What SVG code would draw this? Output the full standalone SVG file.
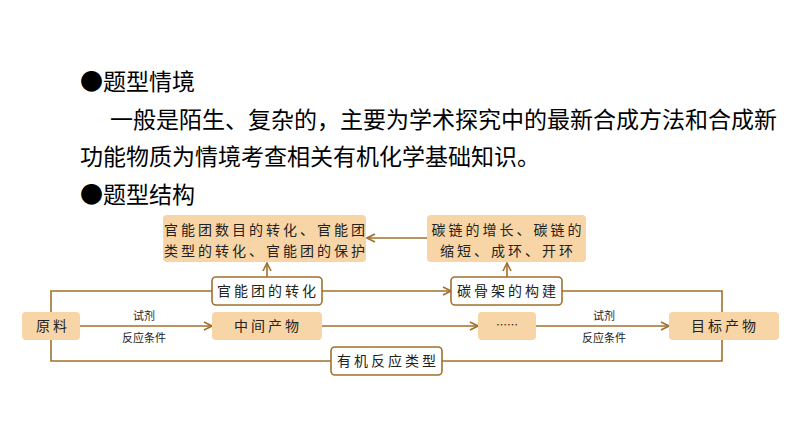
<svg xmlns="http://www.w3.org/2000/svg" width="794" height="447" viewBox="0 0 794 447">
<defs>
<marker id="a" viewBox="0 0 10 10" refX="9" refY="5" markerWidth="10" markerHeight="10" markerUnits="userSpaceOnUse" orient="auto"><path d="M1,1 L9,5 L1,9" fill="none" stroke="#a0702c" stroke-width="1.6"/></marker>
<style>
.h{font-family:"Noto Sans CJK SC",sans-serif;font-size:23px;fill:#000}
.f{fill:#f8d5a6;stroke:none}
.w{fill:#fff;stroke:#a0702c;stroke-width:1.6}
.t{font-family:"Noto Sans CJK SC",sans-serif;font-size:14px;fill:#222;text-anchor:middle;letter-spacing:3px}
.s{font-family:"Noto Sans CJK SC",sans-serif;font-size:11px;fill:#222;text-anchor:middle}
.c path{fill:none;stroke:#a0702c;stroke-width:1.6}
</style>
</defs>
<rect width="794" height="447" fill="#fff"/>
<text class="h" x="80" y="90">●题型情境</text>
<text class="h" x="110" y="128">一般是陌生、复杂的，主要为学术探究中的最新合成方法和合成新</text>
<text class="h" x="80" y="165">功能物质为情境考查相关有机化学基础知识。</text>
<text class="h" x="80" y="203">●题型结构</text>
<g class="c">
<path d="M51,312 V291 H212"/>
<path d="M322,291 H451" marker-end="url(#a)"/>
<path d="M562,291 H722 V312"/>
<path d="M51,340 V361 H331"/>
<path d="M442,361 H722 V340"/>
<path d="M80,326 H212" marker-end="url(#a)"/>
<path d="M322,326 H478" marker-end="url(#a)"/>
<path d="M536,326 H669" marker-end="url(#a)"/>
<path d="M267,277 V263" marker-end="url(#a)"/>
<path d="M507,277 V263" marker-end="url(#a)"/>
<path d="M427,238 H367" marker-end="url(#a)"/>
</g>
<g id="n1"><rect class="f" x="163" y="215" width="203" height="47" rx="4"/><text class="t" x="266" y="235">官能团数目的转化、官能团</text><text class="t" x="266" y="256">类型的转化、官能团的保护</text></g>
<g id="n2"><rect class="f" x="427" y="215" width="159" height="47" rx="4"/><text class="t" x="508" y="235">碳链的增长、碳链的</text><text class="t" x="508" y="256">缩短、成环、开环</text></g>
<g id="n3"><rect class="w" x="212" y="277" width="110" height="28" rx="4"/><text class="t" x="268" y="296">官能团的转化</text></g>
<g id="n4"><rect class="w" x="451" y="277" width="111" height="28" rx="4"/><text class="t" x="508" y="296">碳骨架的构建</text></g>
<g id="n5"><rect class="f" x="22" y="312" width="58" height="28" rx="4"/><text class="t" x="53" y="331">原料</text></g>
<g id="n6"><rect class="f" x="212" y="312" width="110" height="28" rx="4"/><text class="t" x="268" y="331">中间产物</text></g>
<g id="n7"><rect class="f" x="478" y="312" width="58" height="28" rx="4"/><text class="s" x="507" y="329">……</text></g>
<g id="n8"><rect class="f" x="669" y="312" width="110" height="28" rx="4"/><text class="t" x="725" y="331">目标产物</text></g>
<g id="n9"><rect class="w" x="331" y="347" width="111" height="28" rx="4"/><text class="t" x="388" y="366">有机反应类型</text></g>
<g id="l"><text class="s" x="144" y="320">试剂</text><text class="s" x="144" y="342">反应条件</text><text class="s" x="604" y="320">试剂</text><text class="s" x="604" y="342">反应条件</text></g>
</svg>
